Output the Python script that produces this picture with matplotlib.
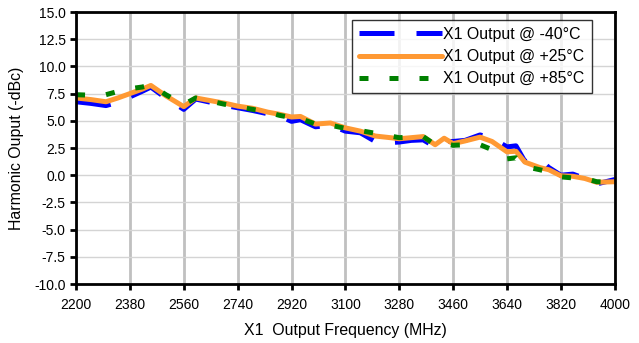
import numpy as np
import matplotlib.pyplot as plt

plt.rcParams['font.family'] = ['Liberation Sans', 'DejaVu Sans']

freq = [2200, 2250, 2300, 2340, 2380, 2420, 2450, 2500, 2560, 2600, 2650,
        2700, 2740, 2790, 2840, 2880, 2920, 2950, 3000, 3050, 3100, 3150,
        3200, 3250, 3280, 3320, 3360, 3400, 3430, 3460, 3500, 3550, 3590,
        3640, 3670, 3700, 3750, 3780, 3820, 3860, 3900, 3940, 4000]

out_m40 = [6.75, 6.6, 6.4, 6.7, 7.2, 7.7, 8.1, 7.1, 6.05, 7.0, 6.7,
           6.4, 6.2, 5.95, 5.65, 5.45, 4.95, 5.1, 4.45, 4.6, 4.05, 3.9,
           3.1, 3.0, 3.05, 3.2, 3.25, 2.6, 3.1, 3.1, 3.2, 3.7, 3.4,
           2.6, 2.7, 1.25, 1.45, 0.7, 0.0, 0.1, -0.3, -0.8, -0.4]

out_p25 = [7.1, 6.95, 6.75, 7.1, 7.5, 7.9, 8.25, 7.3, 6.3, 7.1, 6.85,
           6.6, 6.35, 6.15, 5.8, 5.6, 5.35, 5.4, 4.7, 4.8, 4.35, 4.05,
           3.6, 3.45, 3.35, 3.45, 3.55, 2.8, 3.4, 2.9, 3.15, 3.5, 3.1,
           2.15, 2.2, 1.2, 0.7, 0.5, -0.05, -0.1, -0.3, -0.65, -0.6]

out_p85 = [7.4, 7.35, 7.4, 7.7, 7.95, 8.1, 8.3, 7.4, 6.5, 7.1, 6.8,
           6.5, 6.3, 6.05, 5.8, 5.5, 5.3, 5.2, 4.7, 4.6, 4.3, 4.1,
           3.85, 3.6, 3.45, 3.5, 3.55, 2.8, 2.9, 2.75, 2.8, 2.8, 2.35,
           1.5, 1.6, 0.8, 0.5, 0.3, -0.15, -0.25, -0.3, -0.6, -0.65]

fig = plt.figure(figsize=(6.39, 3.43), dpi=100)
ax = fig.add_axes([0.119, 0.172, 0.843, 0.793])

ax.plot(freq, out_m40, color='#0000FF', lw=3.6, dashes=(7, 4.4),
        label='X1 Output @ -40°C', solid_capstyle='butt')
ax.plot(freq, out_p25, color='#FF9933', lw=3.6, solid_capstyle='round',
        label='X1 Output @ +25°C')
ax.plot(freq, out_p85, color='#008000', lw=3.6, dashes=(1.8, 4.2),
        label='X1 Output @ +85°C')

ax.set_xlim(2200, 4000)
ax.set_ylim(-10, 15)
ax.set_xticks(np.arange(2200, 4001, 180))
ax.set_yticks(np.arange(-10, 15.1, 2.5))
ax.set_yticklabels([f'{v:.1f}' for v in np.arange(-10, 15.1, 2.5)])
ax.tick_params(labelsize=10, width=2, length=4, direction='out')
ax.tick_params(axis='x', pad=6)
ax.xaxis.grid(True, color='#C0C0C0', lw=2)
ax.yaxis.grid(True, color='#D4D4D4', lw=1)
ax.set_axisbelow(True)
for s in ax.spines.values():
    s.set_linewidth(2)

ax.set_xlabel('X1  Output Frequency (MHz)', fontsize=11.4, labelpad=8)
ax.set_ylabel('Harmonic Ouput (-dBc)', fontsize=11.4, labelpad=7)

leg = ax.legend(loc='upper right', bbox_to_anchor=(0.957, 0.971),
                fontsize=11.4, handlelength=5.2, frameon=True,
                fancybox=False, edgecolor='black', borderpad=0.45,
                labelspacing=0.45, handletextpad=0.1, borderaxespad=0)
leg.get_frame().set_linewidth(1)

plt.savefig('out.png', dpi=100)
